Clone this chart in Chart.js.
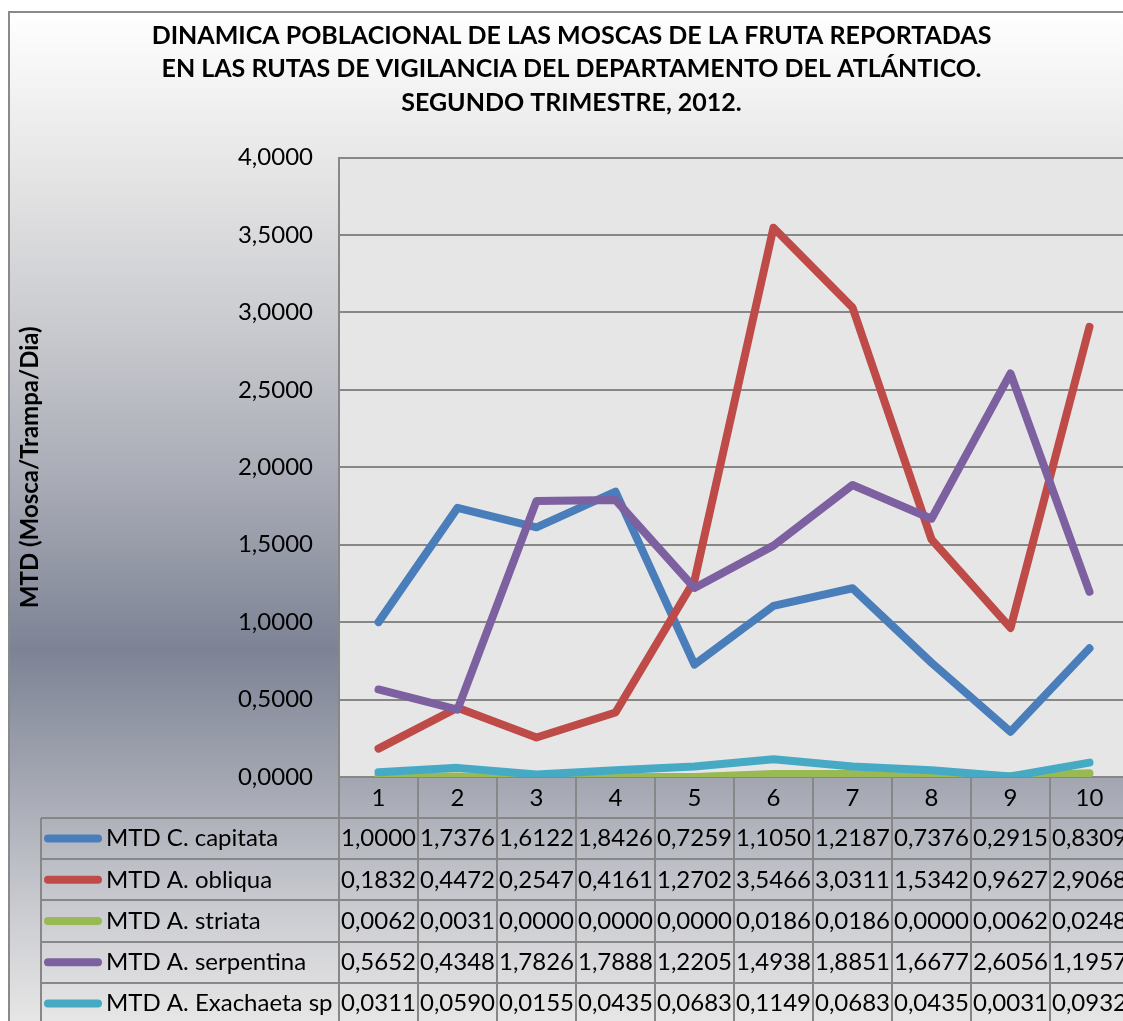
<!DOCTYPE html>
<html>
<head>
<meta charset="utf-8">
<script src="https://cdn.jsdelivr.net/npm/chart.js@4.4.1/dist/chart.umd.min.js"></script>
<style>
  html, body { margin: 0; padding: 0; background: #fff; overflow: hidden; width: 1123px; height: 1021px; }
  canvas { display: block; }
</style>
</head>
<body>
<canvas id="mtdChart" width="1140" height="1030"></canvas>
<script>
// week numbers of the trimester
const weeks = ['1', '2', '3', '4', '5', '6', '7', '8', '9', '10'];

const capitata   = [1.0000, 1.7376, 1.6122, 1.8426, 0.7259, 1.1050, 1.2187, 0.7376, 0.2915, 0.8309];
const obliqua    = [0.1832, 0.4472, 0.2547, 0.4161, 1.2702, 3.5466, 3.0311, 1.5342, 0.9627, 2.9068];
const striata    = [0.0062, 0.0031, 0.0000, 0.0000, 0.0000, 0.0186, 0.0186, 0.0000, 0.0062, 0.0248];
const serpentina = [0.5652, 0.4348, 1.7826, 1.7888, 1.2205, 1.4938, 1.8851, 1.6677, 2.6056, 1.1957];
const exachaeta  = [0.0311, 0.0590, 0.0155, 0.0435, 0.0683, 0.1149, 0.0683, 0.0435, 0.0031, 0.0932];

const seriesNames  = ['MTD C. capitata', 'MTD A. obliqua', 'MTD A. striata', 'MTD A. serpentina', 'MTD A. Exachaeta sp'];
const seriesValues = [capitata, obliqua, striata, serpentina, exachaeta];
const seriesColors = ['#4a7ebb', '#be4b48', '#98b954', '#7d60a0', '#46aac5'];

const yMin = 0, yMax = 4, yStep = 0.5;

const titleLines = [
  'DINAMICA POBLACIONAL DE LAS MOSCAS DE LA FRUTA REPORTADAS',
  'EN LAS RUTAS DE VIGILANCIA DEL DEPARTAMENTO DEL ATLÁNTICO.',
  'SEGUNDO TRIMESTRE, 2012.'
];
const yTitle = 'MTD (Mosca/Trampa/Dia)';

const FONT = 'Lato, "Open Sans", sans-serif';
const GRID = '#878787';
const fmt = v => v.toFixed(4).replace('.', ',');

// gray gradient backdrop + plot area fill
const backdrop = {
  id: 'backdrop',
  beforeDraw(chart) {
    const { ctx, width, height, chartArea: a } = chart;
    ctx.save();
    ctx.fillStyle = '#fff';
    ctx.fillRect(0, 0, width, height);
    const g = ctx.createLinearGradient(0, 12, 0, 1021);
    g.addColorStop(0, '#ffffff');
    g.addColorStop(0.147, '#e7e7e7');
    g.addColorStop(0.315, '#c9cacf');
    g.addColorStop(0.484, '#a4a7b2');
    g.addColorStop(0.632, '#7d8395');
    g.addColorStop(0.781, '#a9acb6');
    g.addColorStop(0.88, '#c8c9cf');
    g.addColorStop(1, '#e6e6e6');
    ctx.fillStyle = g;
    ctx.fillRect(9, 12, width - 9, height - 12);
    ctx.strokeStyle = '#8a8a8a';
    ctx.lineWidth = 2;
    ctx.beginPath();
    ctx.moveTo(9, height);
    ctx.lineTo(9, 12);
    ctx.lineTo(width, 12);
    ctx.stroke();
    ctx.fillStyle = '#e6e6e6';
    ctx.fillRect(a.left, a.top, a.right - a.left, a.bottom - a.top);
    ctx.restore();
  }
};

// excel style data table under the x axis
const dataTable = {
  id: 'dataTable',
  afterDraw(chart) {
    const { ctx, height, chartArea: a } = chart;
    const x = chart.scales.x;
    const colW = (a.right - a.left) / weeks.length;
    const rowTop = x.bottom, rowH = 41.2, tableLeft = 41;
    ctx.save();
    ctx.strokeStyle = GRID;
    ctx.lineWidth = 2;
    ctx.beginPath();
    for (let i = 0; i <= weeks.length; i++) {
      const bx = Math.round(a.left + i * colW);
      ctx.moveTo(bx, a.bottom);
      ctx.lineTo(bx, height);
    }
    ctx.moveTo(tableLeft, rowTop);
    ctx.lineTo(tableLeft, height);
    for (let r = 0; r < seriesNames.length; r++) {
      const ry = Math.round(rowTop + r * rowH);
      ctx.moveTo(tableLeft, ry);
      ctx.lineTo(a.right, ry);
    }
    ctx.stroke();

    ctx.font = '24px ' + FONT;
    ctx.textBaseline = 'middle';
    seriesNames.forEach((name, r) => {
      const cy = rowTop + r * rowH + rowH / 2;
      ctx.strokeStyle = seriesColors[r];
      ctx.lineWidth = 8;
      ctx.lineCap = 'round';
      ctx.beginPath();
      ctx.moveTo(48, cy);
      ctx.lineTo(98, cy);
      ctx.stroke();
      ctx.fillStyle = '#000';
      ctx.textAlign = 'left';
      ctx.fillText(name, 106, cy);
      ctx.textAlign = 'center';
      seriesValues[r].forEach((v, i) => {
        ctx.fillText(fmt(v), x.getPixelForValue(i), cy);
      });
    });
    ctx.restore();
  }
};

new Chart(document.getElementById('mtdChart'), {
  type: 'line',
  data: {
    labels: weeks,
    datasets: seriesNames.map((name, i) => ({
      label: name,
      data: seriesValues[i],
      borderColor: seriesColors[i],
      backgroundColor: seriesColors[i],
      borderWidth: 8,
      borderCapStyle: 'round',
      borderJoinStyle: 'round',
      pointRadius: 0,
      pointHoverRadius: 0,
      tension: 0,
      order: seriesNames.length - i,
      clip: { left: 10, top: 10, right: 10, bottom: 0 }
    }))
  },
  options: {
    responsive: false,
    animation: false,
    devicePixelRatio: 1,
    layout: { padding: { top: 12, left: 14, right: 11, bottom: 1030 - 818 } },
    plugins: {
      legend: { display: false },
      tooltip: { enabled: false },
      title: {
        display: true,
        text: titleLines,
        color: '#000',
        font: { family: FONT, size: 25, weight: 'bold', lineHeight: 1.34 },
        padding: { top: 7, bottom: 38 }
      }
    },
    scales: {
      x: {
        offset: true,
        grid: { display: false, drawTicks: false },
        border: { display: true, color: GRID, width: 2 },
        ticks: { color: '#000', font: { family: FONT, size: 24 }, padding: 7, maxRotation: 0 },
        afterFit(s) { s.height = 41; }
      },
      y: {
        min: yMin,
        max: yMax,
        ticks: { stepSize: yStep, callback: v => fmt(v), color: '#000', font: { family: FONT, size: 24 }, padding: 26 },
        grid: { color: GRID, lineWidth: 2, drawTicks: false },
        border: { color: GRID, width: 2 },
        title: {
          display: true,
          text: yTitle,
          color: '#000',
          font: { family: FONT, size: 24, weight: 'bold' },
          padding: { top: 2, bottom: 0 }
        },
        afterFit(s) { s.width = 339 - 14; }
      }
    }
  },
  plugins: [backdrop, dataTable]
});
</script>
</body>
</html>
